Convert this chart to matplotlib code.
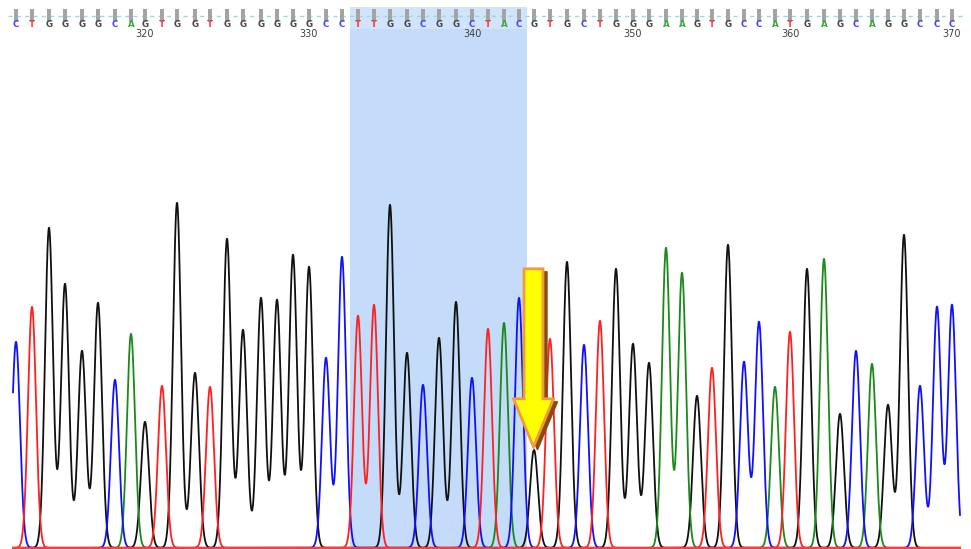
import numpy as np
import matplotlib.pyplot as plt
from matplotlib.patches import Polygon

# base calls (positions 312..370)
first_base = 312
bases = list("CTGGGGCAGTGGTGGGGGGCCTTGGCGGCTACGTGCTGGGAAGTGCCATGAGCAGGCCC")
# peak centre of each base, in scan units
peak_pos = [16, 32, 49, 65, 82, 98, 115, 131, 145, 162,
            177, 195, 210, 227, 243, 261, 277, 293, 309, 326,
            342, 358, 374, 390, 407, 423, 439, 456, 472, 488,
            504, 519, 534, 550, 567, 584, 600, 616, 633, 649,
            666, 682, 697, 712, 728, 744, 759, 775, 790, 807,
            824, 840, 856, 872, 888, 904, 920, 937, 952]
# peak signal of each base
peak_height = [206, 241, 320, 264, 197, 245, 168, 214, 126, 162,
               345, 175, 161, 309, 218, 250, 248, 293, 281, 190,
               291, 232, 243, 343, 195, 163, 210, 246, 170, 219,
               225, 250, 98, 209, 286, 203, 227, 279, 204, 185,
               300, 275, 152, 180, 303, 186, 226, 161, 216, 279,
               289, 134, 197, 184, 143, 313, 162, 241, 243]
tick_bases = [320, 330, 340, 350, 360, 370]
highlight = (333, 343)   # selected region
mutation_base = 344      # base the arrow points to

trace_col = {"A": "#1a8a1a", "C": "#1010ff", "G": "#101010", "T": "#ff2020"}
letter_col = {"A": "#3aa83a", "C": "#4848ff", "G": "#4a4a4a", "T": "#ff3a3a"}

fig = plt.figure(figsize=(9.71, 5.49), dpi=100)
ax = fig.add_axes([0, 0, 1, 1])
ax.set_xlim(0, 971)
ax.set_ylim(-1.2, 547.8)
ax.axis("off")

pos = np.array(peak_pos, dtype=float)
hgt = np.array(peak_height, dtype=float)

# highlighted selection
i0 = highlight[0] - first_base
i1 = highlight[1] - first_base
left = (pos[i0 - 1] + pos[i0]) / 2
right = (pos[i1] + pos[i1 + 1]) / 2
ax.fill_between([left, right], -2, 541, color="#c4dcfa", lw=0, zorder=0)
ax.fill_between([left, right], 519, 541, color="white", alpha=0.25, lw=0, zorder=0)

# header: gray ticks, dashed guide line, letters and numbers
ax.plot([pos[0] - 8, pos[-1] + 12], [532, 532], color="#8fe0e6", lw=1, ls=(0, (3, 3)), zorder=1)
ax.bar(pos, 13, bottom=526, width=4.5, color="#a4a4a4", zorder=2)
for p, b in zip(pos, bases):
    ax.text(p, 523.5, b, ha="center", va="center", fontsize=6.3, fontweight="bold",
            color=letter_col[b], family="DejaVu Sans")
for tb in tick_bases:
    p = pos[tb - first_base]
    ax.text(p, 514, str(tb), ha="center", va="center", fontsize=7, color="#404040")

# traces: one gaussian per called peak
sigma = 4.0
xs = np.linspace(13, 960, 4000)
for b in ["G", "A", "C", "T"]:
    sel = np.array([c == b for c in bases])
    y = np.zeros_like(xs)
    for p, h in zip(pos[sel], hgt[sel]):
        y += h * np.exp(-(xs - p) ** 2 / (2 * sigma ** 2))
    ax.plot(xs, y, color=trace_col[b], lw=1.3, zorder=3)
# red baseline on top
ax.plot([13, 960], [0, 0], color="#ff4040", lw=1.3, zorder=4)

# arrow pointing at the weak peak
k = mutation_base - first_base
tx, ty = pos[k] - 0.5, hgt[k] + 3
shaft_hw, head_hw, head_len, top = 9.5, 20, 48, 279
arrow = [(tx - shaft_hw, top), (tx + shaft_hw, top), (tx + shaft_hw, ty + head_len),
         (tx + head_hw, ty + head_len), (tx, ty), (tx - head_hw, ty + head_len),
         (tx - shaft_hw, ty + head_len)]
shadow = [(x + 4, y - 3) for x, y in arrow]
ax.add_patch(Polygon(shadow, closed=True, facecolor="#8a4a14", edgecolor="#8a4a14", lw=1, zorder=5))
ax.add_patch(Polygon(arrow, closed=True, facecolor="#ffff00", edgecolor="#f39a3c", lw=2, zorder=6))

plt.savefig("out.png", dpi=100)
